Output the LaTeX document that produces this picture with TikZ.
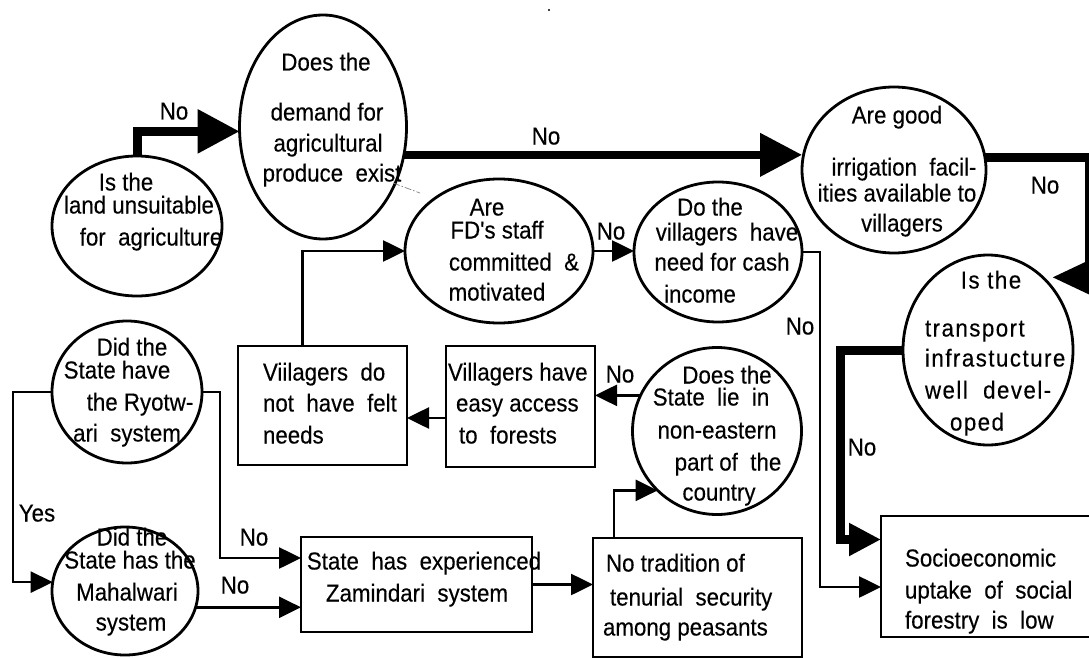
\documentclass[tikz,border=0pt]{standalone}
\usepackage{fontspec}
\setmainfont{Liberation Sans}
\newfontfamily\chartfont[FakeStretch=0.91,FakeBold=0.3]{Liberation Sans}
\newfontfamily\chartwide[FakeStretch=0.91,FakeBold=0.3,LetterSpace=6]{Liberation Sans}
\usetikzlibrary{arrows.meta,shapes.geometric,calc}

\begin{document}
\begin{tikzpicture}[x=1pt,y=-1pt,
  every node/.style={inner sep=0pt, outer sep=0pt},
  oval/.style={draw, ellipse, line width=2.8pt},
  box/.style={draw, rectangle, line width=2.8pt},
  txt/.style={font=\chartfont\fontsize{24.5}{31}\selectfont, anchor=base, yshift=-1.5pt},
  wtxt/.style={txt, font=\chartwide\fontsize{24.5}{31}\selectfont},
  ltxt/.style={txt, anchor=base west},
  lbl/.style={txt},
  conn/.style={line width=2.6pt, -{Triangle[length=22pt,width=21pt]}},
  heavy/.style={line width=9pt, -{Triangle[length=42pt,width=42pt]}},
]
\useasboundingbox (0,0) rectangle (1089,658);
\coordinate (redge) at (1089.5,0);

% ---------- decision ovals ----------
\node[oval, minimum width=170pt, minimum height=140pt] (land)    at (137,226) {};
\node[oval, minimum width=167pt, minimum height=224pt] (demand)  at (323,127) {};
\node[oval, minimum width=184pt, minimum height=166pt] (irrig)   at (894,170) {};
\node[oval, minimum width=188pt, minimum height=144pt] (staff)   at (499,251) {};
\node[oval, minimum width=168pt, minimum height=140pt] (cash)    at (718,252) {};
\node[oval, minimum width=170pt, minimum height=190pt] (transp)  at (988,350) {};
\node[oval, minimum width=169pt, minimum height=167pt] (noneast) at (717,431) {};
\node[oval, minimum width=150pt, minimum height=142pt] (ryot)    at (127,392) {};
\node[oval, minimum width=146pt, minimum height=128pt] (mahal)   at (125,591) {};

% ---------- statement boxes ----------
\node[box, minimum width=169pt, minimum height=119pt] (felt)   at (322.5,405.5) {};
\node[box, minimum width=149pt, minimum height=121pt] (access) at (520.5,406.5) {};
\node[box, minimum width=231pt, minimum height=95pt]  (zamin)  at (416.5,584.5) {};
\node[box, minimum width=209pt, minimum height=119pt] (tenure) at (697.5,597.5) {};
\node[box, minimum width=214pt, minimum height=121pt] (uptake) at (988,576.5) {};

% ---------- oval texts ----------
\node[txt] (land-1) at (126,189) {Is the};
\node[txt] (land-2) at (139,212) {land unsuitable};
\node[txt] (land-3) at (151,244) {for\ \ agriculture};

\node[txt] (demand-1) at (326,69)  {Does the};
\node[txt] (demand-2) at (327,119) {demand for};
\node[txt] (demand-3) at (328,150) {agricultural};
\node[txt] (demand-4) at (332,180) {produce\ \ exist};

\node[txt] (irrig-1) at (897,122) {Are good};
\node[txt] (irrig-2) at (904,174) {irrigation\ \ facil-};
\node[txt] (irrig-3) at (897,200) {ities available to};
\node[txt] (irrig-4) at (902,230) {villagers};

\node[txt] (staff-1) at (487,214) {Are};
\node[txt] (staff-2) at (497,237) {FD's staff};
\node[txt] (staff-3) at (514,269) {committed\ \ \&};
\node[txt] (staff-4) at (497,299) {motivated};

\node[txt] (cash-1) at (710,214) {Do the};
\node[txt] (cash-2) at (727,239) {villagers\ \ have};
\node[txt] (cash-3) at (722,269) {need for cash};
\node[txt] (cash-4) at (700,301) {income};

\node[wtxt] (transp-1) at (991,287) {Is the};
\node[wtxt, anchor=base west] (transp-2) at (925,335) {transport};
\node[wtxt, anchor=base west] (transp-3) at (925,365) {infrastucture};
\node[wtxt, anchor=base west] (transp-4) at (925,397) {well\ \ devel-};
\node[wtxt] (transp-5) at (977,429) {oped};

\node[txt] (noneast-1) at (727,382) {Does the};
\node[txt] (noneast-2) at (711,404) {State\ \ lie\ \ in};
\node[txt] (noneast-3) at (717,437) {non-eastern};
\node[txt] (noneast-4) at (728,469) {part of\ \ the};
\node[txt] (noneast-5) at (719,499) {country};

\node[txt] (ryot-1) at (132,354) {Did the};
\node[txt] (ryot-2) at (117,377) {State have};
\node[txt] (ryot-3) at (140,409) {the Ryotw-};
\node[txt] (ryot-4) at (127,440) {ari\ \ system};

\node[txt] (mahal-1) at (132,544) {Did the};
\node[txt] (mahal-2) at (130,567) {State has the};
\node[txt] (mahal-3) at (127,599) {Mahalwari};
\node[txt] (mahal-4) at (131,629) {system};

% ---------- box texts ----------
\node[ltxt] (felt-1) at (263,379) {Viilagers\ \ do};
\node[ltxt] (felt-2) at (263,410) {not\ \ have\ \ felt};
\node[ltxt] (felt-3) at (263,442) {needs};

\node[ltxt] (access-1) at (448,379) {Villagers have};
\node[ltxt] (access-2) at (456,410) {easy access};
\node[ltxt] (access-3) at (459,442) {to\ \ forests};

\node[txt] (zamin-1) at (424,568) {State\ \ has\ \ experienced};
\node[txt] (zamin-2) at (417,600) {Zamindari\ \ system};

\node[ltxt] (tenure-1) at (606,570) {No tradition of};
\node[ltxt] (tenure-2) at (610,604) {tenurial\ \ security};
\node[ltxt] (tenure-3) at (603,634) {among peasants};

\node[ltxt] (uptake-1) at (905,565) {Socioeconomic};
\node[ltxt] (uptake-2) at (905,597) {uptake\ \ of\ \ social};
\node[ltxt] (uptake-3) at (905,627) {forestry\ \ is\ \ low};

% ---------- main (heavy) chain ----------
\draw[heavy] (land.north) |- (demand.183);
\draw[heavy, line width=7.5pt] (demand.341) -- (demand.341 -| irrig.west);
\draw[heavy, -{Triangle[length=38pt,width=32pt]}]
  (irrig.8) -- (irrig.8 -| redge) -- (redge |- transp.53) -- ($(transp.53)+(9,0)$);
\draw[heavy, -{Triangle[length=32pt,width=31pt]}]
  (transp.west) -- ++(-63,0) |- ($(uptake.west)+(0,-37)$);

% ---------- thin connectors ----------
\draw[conn] (cash.east) -- ++(18,0) |- ($(uptake.west)+(0,10.5)$);
\draw[conn] (staff.east) -- (staff.east -| cash.west);
\draw[conn] ($(felt.north west)!0.38!(felt.north east)$) |- (staff.west);
\draw[conn] ($(access.west)+(0,11.5)$) coordinate (acc-out) -- (acc-out -| felt.east);
\draw[conn] (noneast.155) -- (noneast.155 -| access.east);
\draw[conn] ($(tenure.north west)!0.1!(tenure.north east)$) |- (noneast.225);
\draw[conn] (zamin.east) -- (zamin.east -| tenure.west);
\draw[conn] (ryot.west) -- ++(-39,0) |- (mahal.173);
\draw[conn] (ryot.east) -- ++(18,0) |- ($(zamin.west)+(0,-26.5)$);
\draw[conn] (mahal.347) -- (mahal.347 -| zamin.west);

% ---------- connector labels ----------
\node[lbl] (no-land)    at (174,118)  {No};
\node[lbl] (no-demand)  at (546,143)  {No};
\node[lbl] (no-irrig)   at (1045,192) {No};
\node[lbl] (no-staff)   at (611,238)  {No};
\node[lbl] (no-cash)    at (800,333)  {No};
\node[lbl] (no-transp)  at (862,454)  {No};
\node[lbl] (no-noneast) at (620,381)  {No};
\node[lbl] (yes-ryot)   at (37,520)   {Yes};
\node[lbl] (no-ryot)    at (254,544)  {No};
\node[lbl] (no-mahal)   at (235,592)  {No};

% ---------- stray print marks ----------
\draw[gray, line width=0.7pt, dash pattern=on 7pt off 2pt on 1.5pt off 2pt] (393,183) -- (420,193);
\fill (549,10) circle (1.2pt);
\end{tikzpicture}
\end{document}
